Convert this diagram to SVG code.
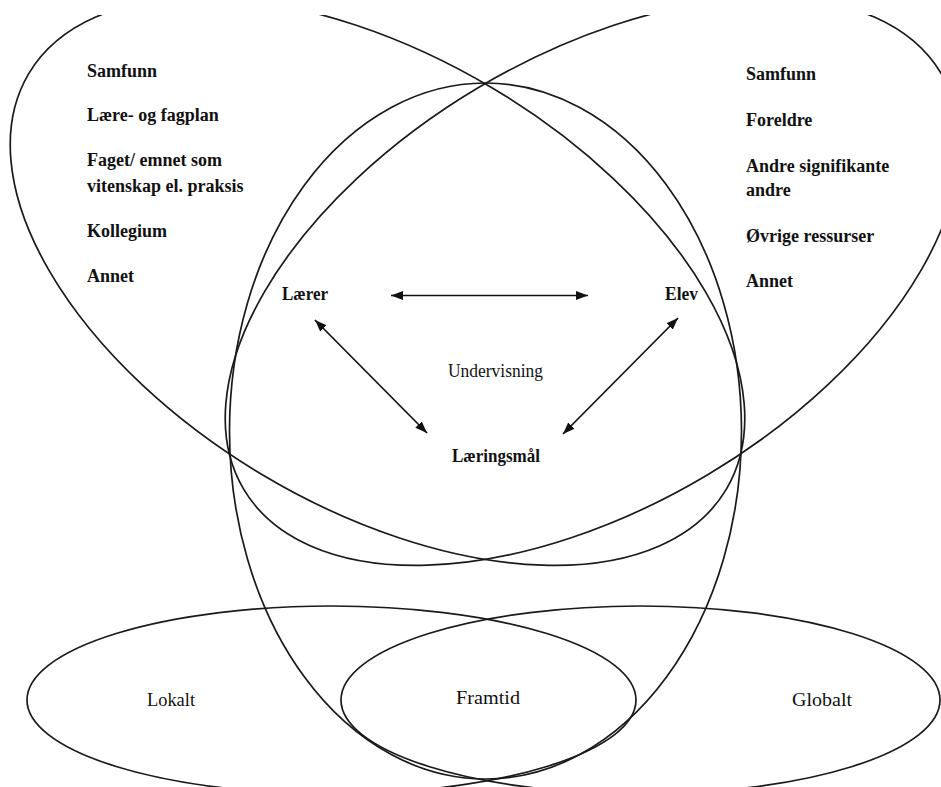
<svg xmlns="http://www.w3.org/2000/svg" width="941" height="787" viewBox="0 0 941 787">
  <defs>
    <clipPath id="crop"><rect x="0" y="15" width="941" height="772"/></clipPath>
    <marker id="ah" viewBox="0 0 12 9" refX="12" refY="4.5" markerWidth="12" markerHeight="9" markerUnits="userSpaceOnUse" orient="auto-start-reverse">
      <path d="M0,0 L12,4.5 L0,9 Z" fill="#111"/>
    </marker>
  </defs>
  <style>
    .shape { fill: none; stroke: #1a1a1a; stroke-width: 1.7; }
    .lbl { font-family: "Liberation Serif", "Times New Roman", serif; font-size: 18px; font-weight: bold; fill: #111; }
    .reg { font-family: "Liberation Serif", "Times New Roman", serif; font-size: 19px; fill: #111; }
    .conn { stroke: #111; stroke-width: 1.7; fill: none; marker-start: url(#ah); marker-end: url(#ah); }
  </style>
  <rect width="941" height="787" fill="#fff"/>
  <g clip-path="url(#crop)">
    <g id="left-context">
      <ellipse class="shape" cx="377.5" cy="281.5" rx="406" ry="225" transform="rotate(30.8 377.5 281.5)"/>
      <text class="lbl" x="87" y="77">Samfunn</text>
      <text class="lbl" x="87" y="121">Lære- og fagplan</text>
      <text class="lbl" x="87" y="166">Faget/ emnet som</text>
      <text class="lbl" x="87" y="192">vitenskap el. praksis</text>
      <text class="lbl" x="87" y="237">Kollegium</text>
      <text class="lbl" x="87" y="282">Annet</text>
    </g>
    <g id="right-context">
      <ellipse class="shape" cx="592.5" cy="281.5" rx="406" ry="225" transform="rotate(-30.8 592.5 281.5)"/>
      <text class="lbl" x="746" y="80">Samfunn</text>
      <text class="lbl" x="746" y="126">Foreldre</text>
      <text class="lbl" x="746" y="172">Andre signifikante</text>
      <text class="lbl" x="746" y="196">andre</text>
      <text class="lbl" x="746" y="242">Øvrige ressurser</text>
      <text class="lbl" x="746" y="287">Annet</text>
    </g>
    <g id="undervisning">
      <ellipse class="shape" cx="485.5" cy="431" rx="256" ry="348"/>
      <text class="reg" x="448" y="377" textLength="95" lengthAdjust="spacingAndGlyphs">Undervisning</text>
    </g>
    <g id="lokalt">
      <ellipse class="shape" cx="331.5" cy="700" rx="304.5" ry="94"/>
      <text class="reg" x="147" y="706" textLength="48" lengthAdjust="spacingAndGlyphs">Lokalt</text>
    </g>
    <g id="globalt">
      <ellipse class="shape" cx="640.5" cy="700" rx="299.5" ry="94"/>
      <text class="reg" x="792" y="706" textLength="60" lengthAdjust="spacingAndGlyphs">Globalt</text>
    </g>
  </g>
  <g id="framtid">
    <text class="reg" x="456" y="704" textLength="64" lengthAdjust="spacingAndGlyphs">Framtid</text>
  </g>
  <g id="laerer">
    <text class="lbl" x="282" y="300" textLength="46" lengthAdjust="spacingAndGlyphs">Lærer</text>
  </g>
  <g id="elev">
    <text class="lbl" x="665" y="300" textLength="33" lengthAdjust="spacingAndGlyphs">Elev</text>
  </g>
  <g id="laeringsmal">
    <text class="lbl" x="452" y="462" textLength="88" lengthAdjust="spacingAndGlyphs">Læringsmål</text>
  </g>
  <g id="connectors">
    <line class="conn" x1="391" y1="295.5" x2="588" y2="295.5"/>
    <line class="conn" x1="315" y1="320" x2="427" y2="433"/>
    <line class="conn" x1="678" y1="318" x2="563" y2="434"/>
  </g>
</svg>
